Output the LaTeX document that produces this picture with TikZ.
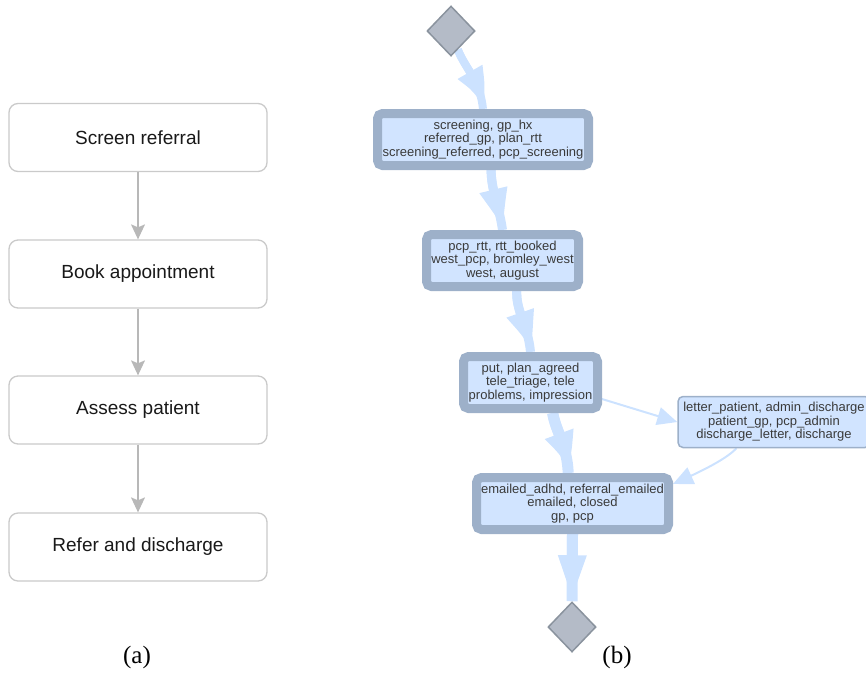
\documentclass[tikz,border=0pt]{standalone}
\usepackage{fontspec}
\setmainfont{Liberation Sans}
\newfontfamily\capfont{Liberation Serif}
\usetikzlibrary{shapes.geometric,arrows.meta,bending}
\definecolor{nodefill}{HTML}{D1E4FF}
\definecolor{nodeedge}{HTML}{9DB0C9}
\definecolor{flow}{HTML}{CCE2FF}
\definecolor{diafill}{HTML}{B4BBC7}
\definecolor{diaedge}{HTML}{8A939E}
\definecolor{boxedge}{HTML}{CACACA}
\definecolor{arrgray}{HTML}{B8B8B8}
\definecolor{labtext}{HTML}{3A3A3A}
\pgfdeclarelayer{bg}
\pgfsetlayers{bg,main}
\tikzset{
  stagebox/.style={draw=boxedge, line width=1.3pt, fill=white, rounded corners=9pt,
    minimum width=258pt, minimum height=68pt, inner sep=0pt,
    font=\fontsize{19}{22}\selectfont, text=black!90},
  stagearrow/.style={draw=arrgray, line width=1.3pt, -{Stealth[width=14pt,length=15pt,inset=3pt]}},
  actnode/.style={draw=nodeedge, line width=9pt, fill=nodefill, rounded corners=5pt,
    inner sep=2pt, align=center, text=labtext, font=\fontsize{13}{13.5}\selectfont},
  thinnode/.style={draw=nodeedge, line width=1.5pt, fill=nodefill, rounded corners=5pt,
    inner sep=2pt, align=center, text=labtext, font=\fontsize{13}{13.5}\selectfont},
  endpoint/.style={diamond, draw=diaedge, line width=1.5pt, fill=diafill,
    minimum width=48pt, minimum height=50pt, inner sep=0pt},
  flowedge/.style={draw=flow, line width=#1, preaction={draw=flow, line width=#1, -},
    -{Triangle[bend, width=25pt, length=46pt]}},
  thinedge/.style={draw=flow, line width=2pt, -{Triangle[width=18pt,length=20pt]}},
  caption/.style={font=\capfont\fontsize{25}{28}\selectfont, text=black}
}
\begin{document}
\begin{tikzpicture}[x=1pt,y=-1pt]
\useasboundingbox (0,0) rectangle (866,673);
% (a)
\node[stagebox] (s1) at (138,137.5) {Screen referral};
\node[stagebox] (s2) at (138,274) {Book appointment};
\node[stagebox] (s3) at (138,410) {Assess patient};
\node[stagebox] (s4) at (138,547) {Refer and discharge};
\draw[stagearrow] (s1) -- (s2);
\draw[stagearrow] (s2) -- (s3);
\draw[stagearrow] (s3) -- (s4);
\node[caption] (capa) at (137,657) {(a)};
% (b)
\node[endpoint] (start) at (451,31) {};
\node[actnode, minimum width=211pt, minimum height=52pt] (n1) at (483,139.5)
  {screening, gp\_hx\\referred\_gp, plan\_rtt\\screening\_referred, pcp\_screening};
\node[actnode, minimum width=152pt, minimum height=52pt] (n2) at (502.5,260.5)
  {pcp\_rtt, rtt\_booked\\west\_pcp, bromley\_west\\west, august};
\node[actnode, minimum width=134pt, minimum height=52pt] (n3) at (530.5,382.5)
  {put, plan\_agreed\\tele\_triage, tele\\problems, impression};
\node[thinnode, minimum width=192pt, minimum height=51pt] (n4) at (774,422)
  {letter\_patient, admin\_discharge\\patient\_gp, pcp\_admin\\discharge\_letter, discharge};
\node[actnode, minimum width=192pt, minimum height=52pt] (n5) at (572.5,503.5)
  {emailed\_adhd, referral\_emailed\\emailed, closed\\gp, pcp};
\node[endpoint] (stop) at (572,627) {};
\node[caption] (capb) at (617,657) {(b)};
\begin{pgfonlayer}{bg}
\draw[flowedge=8pt] (start.-70) .. controls (466,70) and (480,80) .. (n1.north);
\draw[flowedge=9pt] (n1.-75) .. controls (491,190) and (499,205) .. (n2.north);
\draw[flowedge=9pt] (n2.-65) .. controls (516,312) and (528,325) .. (n3.north);
\draw[flowedge=11pt] (n3.-54) .. controls (556,432) and (567,445) .. (n5.98);
\draw[flowedge=11pt] (n5.south) -- (stop.north);
\draw[thinedge] (n3.-13) -- (n4.west);
\draw[thinedge] (n4.215) .. controls (725,460) and (700,472) .. (n5.11);
\end{pgfonlayer}
\end{tikzpicture}
\end{document}
